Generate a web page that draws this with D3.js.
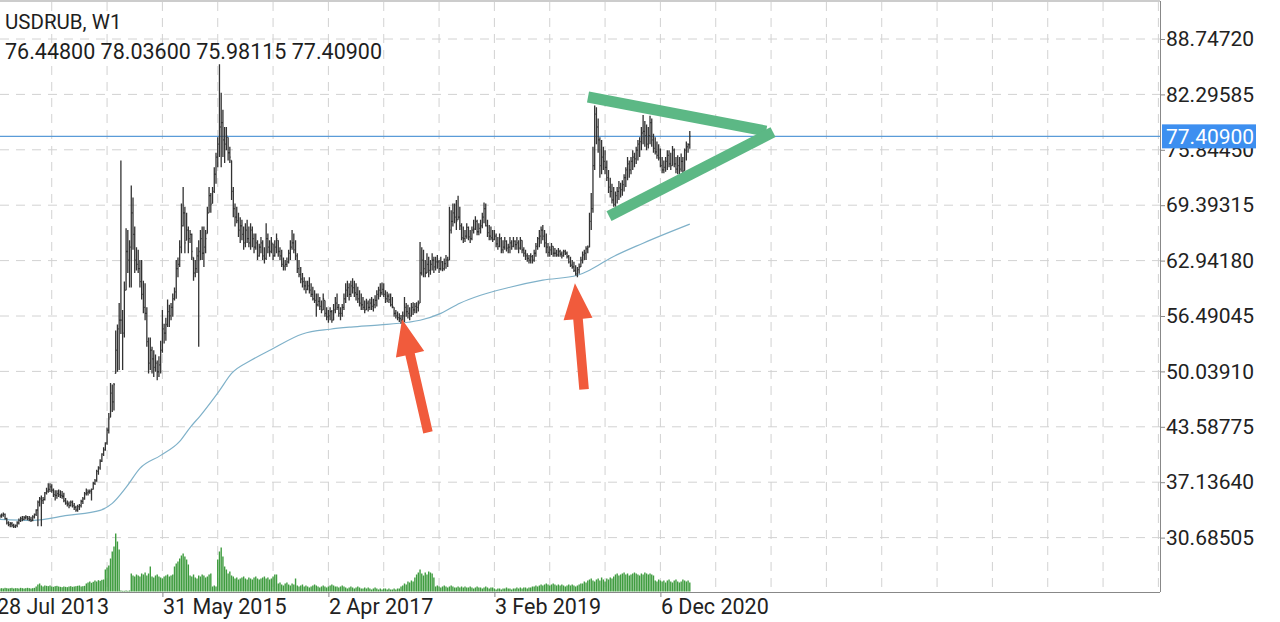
<!DOCTYPE html>
<html><head><meta charset="utf-8">
<script src="https://cdn.jsdelivr.net/npm/d3@7"></script>
<style>body{margin:0;background:#fff}svg{display:block}text{font-family:Roboto,"Noto Sans",sans-serif}</style>
</head><body><svg id="c" width="1280" height="622"></svg>
<script>
// ---------------- DATA ----------------
const symbolTitle = "USDRUB, W1";
const lastOHLC = ["76.44800", "78.03600", "75.98115", "77.40900"];
const lastPrice = 77.409;
const firstBarDate = "2013-08-11";   // weekly bars, one per week from here
const high = [
33.4,33.5,33.6,33.5,33.0,32.6,32.5,32.5,32.3,32.2,
32.6,32.9,33.1,33.2,33.2,33.3,33.2,33.2,33.1,33.3,
33.5,34.0,35.0,35.4,35.6,35.4,36.0,36.5,37.0,37.0,
36.9,36.4,36.2,36.2,36.3,36.2,36.1,35.9,35.3,35.0,
34.9,35.0,35.0,34.7,34.4,34.5,34.6,35.1,35.4,36.0,
36.4,36.3,36.3,36.4,37.2,37.5,38.6,39.0,39.8,40.5,
41.2,41.8,43.5,45.2,48.7,48.5,48.7,54.8,55.5,58.0,
74.6,57.2,60.5,66.7,66.5,65.3,71.7,70.3,66.9,64.5,
64.2,63.0,63.0,60.6,60.3,57.5,54.0,54.0,52.9,52.5,
52.0,51.3,51.8,53.6,57.2,55.6,56.3,58.4,57.8,58.0,
59.1,59.8,63.0,63.3,65.3,69.6,71.5,69.2,68.5,66.9,
66.5,66.1,63.3,63.0,64.5,65.3,66.5,66.9,66.9,66.5,
69.2,71.5,70.8,71.5,73.8,75.5,77.3,85.8,82.5,80.5,
78.5,78.5,77.3,76.2,74.6,71.5,69.6,69.2,68.5,68.0,
67.7,66.9,67.3,67.7,66.9,67.3,66.9,66.1,66.1,65.3,
64.9,65.7,65.3,64.5,67.3,66.1,65.3,65.7,64.9,65.3,
66.1,65.3,64.5,64.2,63.3,63.0,63.3,64.2,65.3,66.5,
66.1,65.3,63.8,63.0,62.2,61.5,61.0,60.6,60.6,61.0,
60.3,59.9,59.5,59.1,59.1,58.7,58.3,59.1,58.3,57.5,
57.2,57.5,57.2,57.9,58.7,59.1,57.9,57.5,57.9,59.1,
60.3,60.6,60.3,60.6,60.9,60.6,60.3,59.9,59.5,59.1,
58.7,58.3,58.5,58.3,58.5,58.7,58.5,58.9,59.5,59.9,
60.3,60.4,60.3,59.5,59.3,59.1,59.1,58.7,57.5,57.2,
57.0,56.8,56.6,57.0,58.7,58.0,57.8,57.5,58.0,58.1,
58.0,58.1,58.3,65.1,64.5,64.2,63.0,63.8,63.4,63.0,
63.8,63.4,63.4,63.6,63.0,63.4,62.9,63.2,63.6,63.4,
69.2,68.8,69.6,69.6,70.0,70.5,69.2,67.3,66.9,66.5,
67.3,66.9,66.5,66.9,67.7,68.1,67.7,67.3,67.7,68.5,
69.7,69.6,67.7,67.1,66.9,66.5,66.5,66.1,65.7,66.1,
65.7,65.3,65.7,65.3,64.9,65.7,65.3,65.7,65.3,65.7,
65.3,65.7,65.3,64.5,64.2,63.8,63.6,63.8,63.6,64.2,
65.0,65.7,66.5,66.9,67.1,66.5,66.1,65.0,64.6,65.0,
64.6,64.4,64.2,64.4,64.2,64.0,64.2,64.2,64.0,63.6,
63.4,63.0,62.8,62.4,62.2,62.6,63.4,64.0,64.2,64.6,
64.7,68.5,70.8,76.2,81.0,80.8,79.5,77.3,77.0,76.2,
75.8,74.6,73.5,72.6,71.9,71.5,71.0,71.5,72.2,72.0,
72.3,73.0,73.8,75.0,74.6,75.0,75.8,75.5,76.2,77.0,
77.3,78.5,79.9,79.2,78.8,78.5,79.8,79.5,77.7,77.3,
76.8,76.5,76.0,75.0,74.6,75.0,75.8,75.8,75.5,76.3,
76.0,75.0,75.2,75.0,75.4,75.0,76.0,76.8,76.6,78.036];
const low = [
32.9,33.0,33.1,32.8,32.2,32.0,31.9,31.9,31.8,31.8,
31.9,32.2,32.5,32.6,32.7,32.8,32.7,32.6,32.5,32.6,
32.9,33.2,32.0,34.3,32.0,34.6,35.0,35.7,35.9,36.0,
35.9,35.4,35.0,35.2,35.4,35.3,35.2,34.8,34.5,34.3,
34.1,34.3,34.2,33.9,33.7,33.7,33.9,34.2,34.6,35.1,
35.6,35.6,35.8,35.0,36.3,36.8,37.2,38.0,38.6,39.5,
40.2,40.8,41.5,42.8,44.7,45.3,45.5,49.8,50.0,50.2,
54.4,50.2,54.0,59.5,61.5,59.8,59.8,64.2,61.5,61.8,
61.5,59.8,58.4,56.8,56.0,52.9,49.8,50.2,49.8,49.4,
50.0,49.0,49.4,49.8,52.2,53.3,53.6,55.2,55.2,56.0,
56.4,58.3,58.5,61.0,62.2,63.8,66.9,63.8,65.3,63.8,
65.0,63.0,60.6,61.0,61.5,52.9,63.0,63.0,62.2,63.8,
66.1,68.5,68.5,69.6,70.8,71.9,73.8,75.0,73.8,75.0,
74.3,75.8,74.6,74.3,70.0,68.0,66.9,67.3,65.7,65.0,
65.3,64.2,64.5,65.0,64.5,64.2,64.5,63.8,64.2,63.0,
63.4,63.8,63.0,62.6,63.0,63.8,63.4,63.8,63.0,63.4,
63.8,63.4,63.0,62.2,61.8,61.8,62.2,62.6,63.0,64.2,
63.8,63.0,61.5,61.0,60.3,59.8,59.5,59.1,59.5,59.1,
58.7,58.3,58.0,56.4,57.6,57.2,56.8,57.2,56.4,56.0,
55.7,56.0,55.7,56.0,56.8,57.2,56.4,56.0,56.4,57.2,
58.0,58.7,58.3,58.7,59.1,58.7,58.3,58.0,57.6,57.2,
57.2,56.8,57.2,57.0,57.2,57.2,57.0,57.4,57.6,58.4,
58.7,58.9,58.7,58.0,58.1,58.0,57.6,57.4,56.4,56.2,
56.0,55.8,55.6,55.8,55.8,56.4,56.2,56.0,56.4,56.6,
56.8,56.8,57.0,58.0,61.2,61.0,61.0,61.5,61.0,61.3,
61.8,61.5,61.8,62.0,61.5,61.8,61.7,61.8,62.0,62.2,
63.0,66.1,66.9,67.3,66.5,67.7,66.5,65.3,65.0,65.1,
65.5,65.3,65.0,65.3,66.1,66.5,65.9,65.9,66.1,66.7,
67.3,66.9,65.7,65.3,65.3,65.1,65.3,64.5,64.2,64.5,
63.8,63.8,64.2,64.0,63.8,63.8,64.2,64.5,64.2,64.2,
63.8,64.2,63.8,63.4,63.0,62.8,62.6,62.6,62.6,62.8,
63.4,64.2,64.5,64.9,65.3,64.5,63.8,63.4,63.4,63.6,
63.4,63.4,63.4,63.4,63.4,63.2,63.4,63.6,63.2,62.6,
62.2,62.0,61.6,61.2,61.0,61.4,62.2,62.6,63.0,63.0,
63.8,64.5,66.5,68.5,73.5,76.5,75.5,72.6,73.0,73.5,
73.0,72.2,70.8,70.3,69.6,69.2,69.2,69.6,70.0,70.3,
70.5,71.0,71.5,72.3,72.6,73.0,73.5,73.8,74.2,74.6,
75.0,75.8,76.5,76.2,75.8,76.0,76.5,76.2,75.5,75.3,
74.8,74.6,73.8,73.1,73.1,73.3,73.5,73.8,73.5,74.0,
73.8,73.1,73.0,73.0,73.3,73.0,73.4,74.6,75.5,75.98115];
const close = [
33.2,33.3,33.4,32.9,32.4,32.2,32.3,32.1,32.0,32.1,
32.4,32.7,32.9,32.8,33.0,33.1,32.9,32.8,32.7,33.1,
33.4,33.9,34.8,35.2,35.0,35.1,35.9,36.1,36.3,36.6,
36.2,35.7,35.6,35.8,35.7,35.6,35.5,35.0,34.7,34.6,
34.4,34.8,34.4,34.2,33.9,34.3,34.4,34.9,35.2,35.8,
35.9,36.0,36.1,36.3,37.0,37.3,38.4,38.8,39.6,40.4,
40.9,41.7,43.2,44.5,47.5,46.5,48.5,52.5,55.0,56.0,
56.0,54.5,59.5,64.0,63.0,64.5,68.5,66.0,63.0,62.5,
62.0,60.5,59.0,57.5,56.8,53.5,51.0,52.5,51.5,50.5,
51.0,50.0,50.8,52.5,55.0,54.5,55.5,57.0,56.5,57.5,
58.5,59.3,62.0,62.5,64.5,67.0,68.5,65.0,66.5,65.5,
66.0,64.0,61.5,62.0,63.5,64.0,65.5,63.8,64.5,65.5,
68.5,70.5,69.5,71.0,73.0,75.0,76.5,78.5,79.0,77.0,
76.5,77.5,75.5,75.0,71.0,69.0,68.0,67.6,66.5,67.0,
66.0,65.0,66.5,65.5,65.0,66.5,65.5,64.5,65.0,63.5,
64.5,65.0,63.5,63.2,65.5,64.5,64.0,65.0,63.5,64.5,
65.5,64.0,63.5,62.5,62.3,62.5,62.8,63.8,64.5,65.0,
64.2,63.5,62.0,61.3,60.8,60.5,60.0,59.6,60.0,59.5,
59.0,58.5,58.3,57.8,58.2,57.6,57.2,58.5,56.8,56.4,
56.5,57.0,56.0,57.2,58.0,57.5,56.8,56.8,57.5,58.5,
59.5,59.8,59.0,60.0,59.8,59.2,59.0,58.5,58.0,57.8,
57.5,57.2,58.0,57.5,58.0,57.6,57.8,58.3,59.0,59.5,
59.2,59.6,59.0,58.5,58.8,58.4,57.8,57.6,56.8,56.5,
56.3,56.2,56.0,56.5,57.5,57.0,56.8,56.5,57.5,57.2,
57.6,57.5,57.8,61.5,63.0,62.0,61.5,62.5,61.8,62.5,
63.0,62.2,62.8,62.8,62.0,62.8,62.0,62.6,63.0,63.0,
66.5,67.5,68.5,68.0,67.5,68.0,67.0,65.6,65.5,65.8,
66.8,65.7,65.5,66.5,66.6,67.5,66.3,66.7,67.0,68.0,
69.0,67.0,66.2,65.8,65.6,65.4,65.8,64.9,64.6,65.5,
64.2,64.5,65.2,64.4,64.5,65.0,64.6,65.2,64.8,65.0,
64.4,65.3,64.2,63.8,63.5,63.2,63.0,63.4,63.0,63.8,
64.6,65.5,65.8,66.5,65.8,65.0,64.5,63.9,64.2,64.6,
63.8,63.8,63.6,64.0,63.7,63.5,64.0,63.8,63.4,62.8,
62.4,62.2,61.8,61.4,61.9,62.2,63.0,63.6,63.8,64.3,
64.5,67.5,69.0,74.0,80.0,78.5,77.0,74.0,75.0,74.5,
73.8,72.6,71.5,71.0,70.0,69.5,70.5,71.0,71.4,71.2,
71.8,72.6,73.5,74.2,73.5,74.5,75.0,74.8,75.8,76.5,
76.8,77.8,78.0,77.5,76.5,77.5,79.0,77.0,76.0,75.6,
75.2,74.9,74.0,73.5,73.8,74.5,75.2,74.2,74.0,75.8,
74.2,73.6,74.0,73.6,74.5,73.4,75.8,76.2,76.448,77.409];
// tick volume, thousands
const volume = [
9,10,9,11,10,9,10,11,9,10,10,9,11,10,9,10,11,10,9,10,11,
15,21,24,18,
15,18,17,16,18,15,14,16,17,15,14,13,15,14,13,15,16,14,15,16,17,18,15,16,17,
24,27,30,26,29,33,30,34,32,35,36,
66,72,78, 99,120,135,174,150,126, 3,2,2,3,2,3,
54,48,45,51,48,45,54,51,57,48,54,75,
45,42,48,51,45,42,39,45,48,51,45,48,51,
75,84,90,99,108,114,105,96,81,
48,45,51,42,39,48,45,51,48,42,45,51,54,
15,18,15, 96,120,132, 105,75,66,54,60,48,45,
39,42,36,39,42,45,39,36,42,39,36,42,45,39,36,39,42,45,39,42,36,39,45,51,
51, 24,27,21,18,24,27,21,18,24,21, 39,
18,15,18,21,15,18,15,12,15,18,21,18,15,12,15,18,15,12,15,18,
21,18,15,15,12,15,18,15,12,9,12,15,12,9,12,15,12,9,9,12,
9,12,9,6,9,12,9,6,9,6,9,9,6,9,6,6,9,6,9,9,
15,18,24,21,30,27,33,30,
42,51,57,66,54,48,57,51,60,57,54,42,
15,18,15,12,15,18,15,12,15,18,15,12,12,15,12,15,12,15,12,12,15,12,9,12,15,12,12,9,12,15,12,9,12,12,
9,6,9,9,6,9,9,12,9,9,6,9,9,12,9,12,9,12,12,9,12,12,15,
15,18,15,18,21,18,21,24,21,18,21,24,21,18,21,18,21,18,15,18,21,18,21,18,15,18,21,24,
24,30,27,33,36,39,33,30,36,39,33,42,36,30,39,36,42,39,45,
51,54,48,51,54,57,51,54,48,51,54,57,54,51,48,54,51,57,54,51,54,51,48,
33,30,36,33,30,33,
27,33,36,30,27,33,36,30,27,30,36,33,30,33,27];
// moving average: bar number -> value
const maBar = [0,19,39,58,65,73,81,93,104,110,116,127,134,145,157,175,191,203,220,236,243,255,266,278,295,314,334,341,353,372,399];
const maValue = [32.80,32.69,33.27,33.85,34.67,36.53,38.75,40.26,41.89,43.5,44.9,47.8,49.8,51.3,52.6,54.4,54.95,55.2,55.45,55.76,56.0,56.8,57.98,58.91,59.84,60.66,61.24,61.82,63.22,64.97,67.19];
const priceTicks = [30.68505,37.13640,43.58775,50.03910,56.49045,62.94180,69.39315,75.84450,82.29585,88.74720];
const dateTicks = ["2013-07-28","2015-05-31","2017-04-02","2019-02-03","2020-12-06"];
// drawn annotations: [date, price]
const triangleLines = [
  [["2020-02-17",81.99],["2022-02-07",78.02]],
  [["2020-05-12",68.12],["2022-03-07",77.91]]];
const arrows = [
  [["2018-05-10",42.94],["2018-01-25",56.11]],
  [["2020-02-01",47.95],["2019-12-26",60.31]]];

// ---------------- CHART ----------------
const plotR = 1160, plotB = 592;
const svg = d3.select("#c");
const parse = d3.utcParse("%Y-%m-%d");
const n = Math.min(high.length, low.length, close.length, volume.length);
const first = parse(firstBarDate);
const bars = d3.range(n).map(k => ({
  d: d3.utcWeek.offset(first, k), h: high[k], l: low[k], c: close[k],
  o: k > 0 ? close[k-1] : close[k], v: volume[k]}));

const x = d3.scaleUtc().domain([parse("2013-07-28"), parse("2020-12-06")]).range([-3.6, 660.4]);
const y = d3.scaleLinear().domain([30.68505, 88.7472]).range([537.6, 39]);
const yv = d3.scaleLinear().domain([0, 180]).range([591.5, 531.5]);

svg.append("defs").append("clipPath").attr("id","plot")
  .append("rect").attr("x",0).attr("y",1).attr("width",plotR).attr("height",plotB-1);
const plot = svg.append("g").attr("clip-path","url(#plot)");

// grid
const gridDates = d3.range(0, 22).map(k => d3.utcWeek.offset(parse("2013-07-28"), 32*k));
plot.append("g").selectAll("line").data(gridDates).join("line")
  .attr("x1", d => x(d)).attr("x2", d => x(d)).attr("y1", 2).attr("y2", plotB)
  .attr("stroke","#d2d2d2").attr("stroke-dasharray","9,7").attr("stroke-width",1);
plot.append("g").selectAll("line").data(priceTicks).join("line")
  .attr("x1",0).attr("x2",plotR).attr("y1", d => y(d)).attr("y2", d => y(d))
  .attr("stroke","#d2d2d2").attr("stroke-dasharray","9,7").attr("stroke-width",1);

// last price line
plot.append("line").attr("x1",0).attr("x2",plotR).attr("y1",y(lastPrice)).attr("y2",y(lastPrice))
  .attr("stroke","#5a9bd8").attr("stroke-width",1.1);

// volume
plot.append("g").selectAll("rect").data(bars).join("rect")
  .attr("x", b => x(b.d) - 0.7).attr("width", 1.4)
  .attr("y", b => yv(b.v)).attr("height", b => yv(0) - yv(b.v))
  .attr("fill","#3f9c3f");

// moving average
const maPts = maBar.map((b, k) => [d3.utcWeek.offset(first, b), maValue[k]]);
plot.append("path").datum(maPts)
  .attr("d", d3.line().x(p => x(p[0])).y(p => y(p[1])).curve(d3.curveMonotoneX))
  .attr("fill","none").attr("stroke","#7fb1c9").attr("stroke-width",1.2);

// OHLC bars
plot.append("g").selectAll("path").data(bars).join("path")
  .attr("d", b => {
    const cx = x(b.d), o = Math.max(b.l, Math.min(b.h, b.o));
    return `M${cx},${y(b.h)}V${y(b.l)}M${cx-0.9},${y(o)}H${cx}M${cx},${y(b.c)}H${cx+0.9}`;
  })
  .attr("fill","none").attr("stroke","#333").attr("stroke-width",1.3);

// triangle lines
plot.append("g").selectAll("line").data(triangleLines).join("line")
  .attr("x1", s => x(parse(s[0][0]))).attr("y1", s => y(s[0][1]))
  .attr("x2", s => x(parse(s[1][0]))).attr("y2", s => y(s[1][1]))
  .attr("stroke","#5cb885").attr("stroke-width",11);

// arrows
function arrowPath(a) {
  const tx = x(parse(a[0][0])), ty = y(a[0][1]), px = x(parse(a[1][0])), py = y(a[1][1]);
  const len = Math.hypot(px - tx, py - ty), ux = (px - tx) / len, uy = (py - ty) / len;
  const nx = -uy, ny = ux, hl = 36, hh = 14.5, sh = 4.8;
  const bx = px - ux*hl, by = py - uy*hl;
  const P = [[tx+nx*sh,ty+ny*sh],[bx+nx*sh,by+ny*sh],[bx+nx*hh,by+ny*hh],[px,py],
             [bx-nx*hh,by-ny*hh],[bx-nx*sh,by-ny*sh],[tx-nx*sh,ty-ny*sh]];
  return "M" + P.map(p => p.join(",")).join("L") + "Z";
}
plot.append("g").selectAll("path").data(arrows).join("path")
  .attr("d", arrowPath).attr("fill","#f15b3c");

// borders
svg.append("line").attr("x1",0).attr("x2",plotR).attr("y1",1).attr("y2",1).attr("stroke","#999");
svg.append("line").attr("x1",plotR+0.5).attr("x2",plotR+0.5).attr("y1",1).attr("y2",plotB).attr("stroke","#888");
svg.append("line").attr("x1",0).attr("x2",plotR).attr("y1",plotB+0.5).attr("y2",plotB+0.5).attr("stroke","#888");

// right axis
const ay = svg.append("g").attr("transform",`translate(${plotR},0)`)
  .call(d3.axisRight(y).tickValues(priceTicks).tickFormat(d3.format(".5f")).tickSize(5).tickPadding(1));
ay.select(".domain").remove();
ay.selectAll("line").attr("stroke","#888");
ay.selectAll("text").attr("font-size",21).attr("fill","#222").attr("font-family","Roboto");

// bottom axis
const ax = svg.append("g").attr("transform",`translate(0,${plotB})`)
  .call(d3.axisBottom(x).tickValues(dateTicks.map(parse)).tickFormat(d3.utcFormat("%-d %b %Y")).tickSize(5).tickPadding(2));
ax.select(".domain").remove();
ax.selectAll("line").attr("stroke","#888");
ax.selectAll("text").attr("font-size",21.5).attr("fill","#222").attr("font-family","Roboto")
  .attr("text-anchor","start");

// last price label
const ly = y(lastPrice);
svg.append("rect").attr("x",plotR+2).attr("y",ly-12).attr("width",94).attr("height",24).attr("fill","#3d8ff0");
svg.append("text").attr("x",plotR+6).attr("y",ly).attr("dy","0.35em").attr("font-size",21)
  .attr("fill","#fff").text(d3.format(".5f")(lastPrice));

// header
svg.append("text").attr("x",5).attr("y",29).attr("font-size",20.5).attr("fill","#1e1e1e").text(symbolTitle);
svg.append("text").attr("x",5).attr("y",58.5).attr("font-size",21.5).attr("fill","#1e1e1e").text(lastOHLC.join(" "));
</script></body></html>
